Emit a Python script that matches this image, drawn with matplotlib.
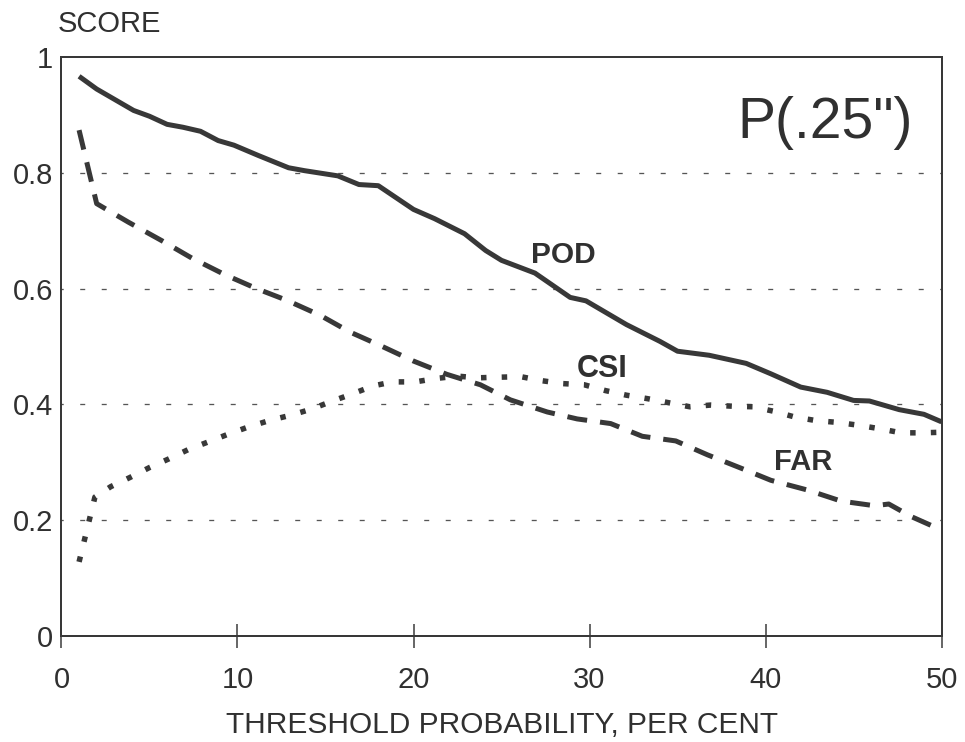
import matplotlib
matplotlib.use("Agg")
import matplotlib.pyplot as plt

plt.rcParams["font.family"] = ["Liberation Sans", "DejaVu Sans"]
plt.rcParams["lines.scale_dashes"] = False

# Probability of detection
pod_x = [1.0, 2.0, 4.1, 5.0, 6.0, 6.9, 7.9, 8.9, 9.8, 11.2, 12.9, 13.8, 15.7, 16.9,
         18.0, 20.0, 21.2, 22.9, 24.1, 25.0, 26.9, 28.9, 29.8, 32.1, 34.0, 35.0,
         36.8, 38.9, 40.3, 42.0, 43.5, 45.0, 45.9, 47.6, 49.0, 50.0]
pod_y = [0.967, 0.945, 0.908, 0.898, 0.884, 0.879, 0.872, 0.856, 0.848, 0.830,
         0.809, 0.804, 0.795, 0.780, 0.778, 0.737, 0.721, 0.695, 0.666, 0.649,
         0.627, 0.585, 0.579, 0.538, 0.509, 0.492, 0.485, 0.471, 0.453, 0.430,
         0.421, 0.407, 0.406, 0.391, 0.383, 0.370]

# False alarm ratio
far_x = [1.0, 2.0, 3.8, 5.7, 7.4, 9.3, 11.1, 12.8, 14.7, 16.4, 18.1, 20.0, 21.9,
         23.8, 25.5, 27.6, 29.3, 31.2, 33.0, 34.9, 36.7, 38.6, 40.3, 42.4, 44.3,
         46.2, 47.0, 48.3, 50.0]
far_y = [0.874, 0.747, 0.715, 0.683, 0.653, 0.624, 0.600, 0.580, 0.554, 0.525,
         0.502, 0.475, 0.452, 0.434, 0.408, 0.387, 0.375, 0.367, 0.345, 0.337,
         0.313, 0.290, 0.269, 0.252, 0.233, 0.225, 0.228, 0.206, 0.183]

# Critical success index
csi_x = [1.0, 1.9, 2.8, 3.9, 5.0, 6.1, 7.2, 8.4, 9.5, 10.7, 11.9, 13.1, 14.2, 15.4,
         16.5, 17.7, 18.8, 20.1, 21.3, 22.5, 23.6, 24.7, 26.1, 27.3, 28.5, 29.7,
         30.9, 32.1, 33.3, 34.5, 35.7, 36.9, 38.1, 39.3, 40.5, 41.7, 42.9, 44.1,
         45.3, 46.5, 47.7, 48.9, 50.0]
csi_y = [0.128, 0.240, 0.258, 0.274, 0.291, 0.306, 0.322, 0.336, 0.349, 0.362,
         0.373, 0.382, 0.392, 0.406, 0.418, 0.432, 0.439, 0.439, 0.445, 0.449,
         0.446, 0.447, 0.448, 0.441, 0.436, 0.434, 0.424, 0.416, 0.410, 0.403,
         0.396, 0.399, 0.397, 0.396, 0.388, 0.378, 0.372, 0.369, 0.364, 0.358,
         0.351, 0.351, 0.352]

x_ticks = [0, 10, 20, 30, 40, 50]
y_ticks = [0, 0.2, 0.4, 0.6, 0.8, 1.0]
y_tick_labels = ["0", "0.2", "0.4", "0.6", "0.8", "1"]
grid_levels = [0.2, 0.4, 0.6, 0.8]

ink = "#383838"
txt = "#303030"
px = 72 / 100  # points per pixel

fig = plt.figure(figsize=(9.65, 7.42), dpi=100)
ax = fig.add_axes([0.0637, 0.1429, 0.912, 0.780])

for lvl in grid_levels:
    ax.axhline(lvl, color="#555555", lw=1.3 * px, linestyle=(2, (5 * px, 16.5 * px)),
               zorder=1)

lw = 5 * px
ax.plot(pod_x, pod_y, color=ink, lw=lw, solid_joinstyle="round",
        solid_capstyle="butt", zorder=3)
ax.plot(far_x, far_y, color=ink, lw=lw, linestyle=(0, (20 * px, 13 * px)),
        dash_capstyle="butt", zorder=3)
ax.plot(csi_x, csi_y, color=ink, lw=5.5 * px, linestyle=(0, (5.5 * px, 15.2 * px)),
        dash_capstyle="butt", zorder=3)

ax.set_xlim(0, 50)
ax.set_ylim(0, 1)
ax.set_xticks(x_ticks)
ax.set_xticklabels([str(v) for v in x_ticks])
ax.set_yticks(y_ticks)
ax.set_yticklabels(y_tick_labels)

for s in ax.spines.values():
    s.set_color(ink)
    s.set_linewidth(2 * px)

ax.tick_params(axis="x", direction="inout", length=24 * px, width=1.5 * px,
               color=ink, labelsize=21, labelcolor=txt, pad=13)
ax.tick_params(axis="y", length=0, labelsize=21, labelcolor=txt, pad=6)

ax.set_xlabel("THRESHOLD PROBABILITY, PER CENT", fontsize=21.5, color=txt,
              labelpad=12)
fig.text(58 / 965, 1 - 32 / 742, "SCORE", fontsize=21, color=txt,
         ha="left", va="baseline")

ax.text(38.4, 0.86, "P(.25\")", fontsize=41, color=txt, ha="left",
        va="baseline")
ax.text(26.7, 0.644, "POD", fontsize=21.5, fontweight="bold", color=txt,
        ha="left", va="baseline")
ax.text(29.3, 0.447, "CSI", fontsize=22, fontweight="bold", color=txt,
        ha="left", va="baseline")
ax.text(40.5, 0.287, "FAR", fontsize=21, fontweight="bold", color=txt,
        ha="left", va="baseline")

fig.savefig("out.png", dpi=100)
